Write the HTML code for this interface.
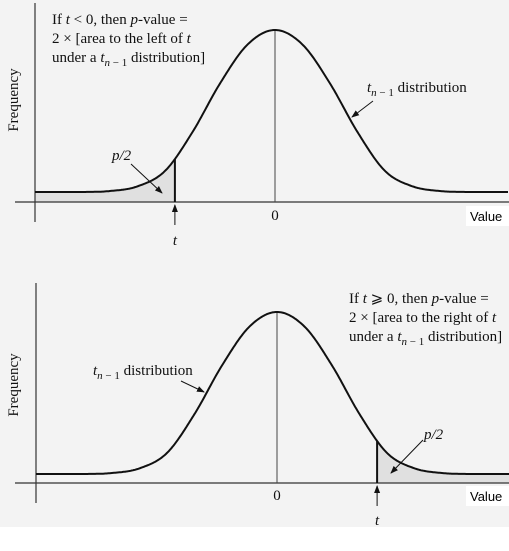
<!DOCTYPE html>
<html><head><meta charset="utf-8"><style>
html,body{margin:0;padding:0;background:#fff}
svg{display:block}
.serif{font-family:"Liberation Serif",serif;font-size:15px;fill:#111}
.it{font-style:italic}
.sans{font-family:"Liberation Sans",sans-serif;font-size:13px;fill:#000}
</style></head><body>
<svg id="fig" width="509" height="551" viewBox="0 0 509 551">
<rect x="0" y="0" width="509" height="527" fill="#f3f3f3"/>
<defs><marker id="ah" markerWidth="8" markerHeight="8" refX="7" refY="4" orient="auto" markerUnits="userSpaceOnUse"><path d="M0,1 L8,4 L0,7 Z" fill="#111"/></marker></defs>

<g id="top">
<path id="topShade" fill="#e0e0e0"/>
<line x1="35" y1="3" x2="35" y2="222" stroke="#333" stroke-width="1.2"/>
<line x1="15" y1="202" x2="509" y2="202" stroke="#333" stroke-width="1.2"/>
<line id="topZero" y2="202" stroke="#444" stroke-width="1"/>
<path id="topCurve" fill="none" stroke="#111" stroke-width="2"/>
<line id="topT" y2="202" stroke="#111" stroke-width="2"/>
<text class="serif" font-size="16" transform="translate(18,100) rotate(-90)" text-anchor="middle">Frequency</text>
<text class="serif" x="52" y="24">If <tspan class="it">t</tspan> &lt; 0, then <tspan class="it">p</tspan>-value =</text>
<text class="serif" x="52" y="43">2 × [area to the left of <tspan class="it">t</tspan></text>
<text class="serif" x="52" y="62">under a <tspan class="it">t</tspan><tspan class="it" font-size="11" dy="4">n</tspan><tspan font-size="11"> − 1</tspan><tspan dy="-4"> distribution]</tspan></text>
<text class="serif" x="367" y="92"><tspan class="it">t</tspan><tspan class="it" font-size="11" dy="4">n</tspan><tspan font-size="11"> − 1</tspan><tspan dy="-4"> distribution</tspan></text>
<line x1="373" y1="101" x2="352" y2="117" stroke="#111" stroke-width="1" marker-end="url(#ah)"/>
<text class="serif it" x="112" y="160">p/2</text>
<line x1="131" y1="164" x2="162" y2="193" stroke="#111" stroke-width="1" marker-end="url(#ah)"/>
<line id="topTArrow" y1="225" y2="205" stroke="#111" stroke-width="1" marker-end="url(#ah)"/>
<text id="topTLbl" class="serif it" y="245" text-anchor="middle">t</text>
<text id="topZeroLbl" class="serif" y="220" text-anchor="middle">0</text>
<rect x="466" y="206" width="43" height="20" fill="#fff"/>
<text class="sans" x="470" y="221">Value</text>
</g>

<g id="bot">
<path id="botShade" fill="#e0e0e0"/>
<line x1="36" y1="283" x2="36" y2="503" stroke="#333" stroke-width="1.2"/>
<line x1="15" y1="483" x2="509" y2="483" stroke="#333" stroke-width="1.2"/>
<line id="botZero" y2="483" stroke="#444" stroke-width="1"/>
<path id="botCurve" fill="none" stroke="#111" stroke-width="2"/>
<line id="botT" y2="483" stroke="#111" stroke-width="2"/>
<text class="serif" font-size="16" transform="translate(18,385) rotate(-90)" text-anchor="middle">Frequency</text>
<text class="serif" x="349" y="303">If <tspan class="it">t</tspan> ⩾ 0, then <tspan class="it">p</tspan>-value =</text>
<text class="serif" x="349" y="322">2 × [area to the right of <tspan class="it">t</tspan></text>
<text class="serif" x="349" y="341">under a <tspan class="it">t</tspan><tspan class="it" font-size="11" dy="4">n</tspan><tspan font-size="11"> − 1</tspan><tspan dy="-4"> distribution]</tspan></text>
<text class="serif" x="93" y="375"><tspan class="it">t</tspan><tspan class="it" font-size="11" dy="4">n</tspan><tspan font-size="11"> − 1</tspan><tspan dy="-4"> distribution</tspan></text>
<line x1="181" y1="381" x2="204" y2="392" stroke="#111" stroke-width="1" marker-end="url(#ah)"/>
<text class="serif it" x="424" y="439">p/2</text>
<line x1="423" y1="440" x2="391" y2="473" stroke="#111" stroke-width="1" marker-end="url(#ah)"/>
<line id="botTArrow" y1="506" y2="486" stroke="#111" stroke-width="1" marker-end="url(#ah)"/>
<text id="botTLbl" class="serif it" y="525" text-anchor="middle">t</text>
<text id="botZeroLbl" class="serif" y="500" text-anchor="middle">0</text>
<rect x="466" y="486" width="43" height="20" fill="#fff"/>
<text class="sans" x="470" y="501">Value</text>
</g>
</svg>
<script>
// density shape (x in t units, relative height 0..1)
var zValues = [-5,-4.5,-4,-3.5,-3,-2.5,-2,-1.5,-1,-0.5,0,0.5,1,1.5,2,2.5,3,3.5,4,4.5,5];
var densityValues = [0,0,0,0,0.006,0.035,0.13,0.37,0.67,0.91,1,0.91,0.67,0.37,0.13,0.035,0.006,0,0,0,0];
var tTop = -1.82;
var tBottom = 1.82;

function makeScales(zeroX, baseY, peakY){
  return {x:function(z){return zeroX + z*55;}, y:function(d){return baseY - d*(baseY-peakY);}};
}
function dens(z){
  for(var i=0;i<zValues.length-1;i++){
    if(z>=zValues[i]&&z<=zValues[i+1]){
      var p0=densityValues[Math.max(i-1,0)],p1=densityValues[i],p2=densityValues[i+1],p3=densityValues[Math.min(i+2,zValues.length-1)];
      var s=(z-zValues[i])/(zValues[i+1]-zValues[i]);
      var m1=(p2-p0)/2,m2=(p3-p1)/2;
      var h00=2*s*s*s-3*s*s+1,h10=s*s*s-2*s*s+s,h01=-2*s*s*s+3*s*s,h11=s*s*s-s*s;
      return Math.max(0,h00*p1+h10*m1+h01*p2+h11*m2);
    }
  }
  return 0;
}
function draw(pref, sc, axisX, tval, rightTail, xAxisY){
  var zmin=(axisX-sc.x(0))/55, zmax=(509-sc.x(0))/55;
  var d='', pts=[];
  for(var z=zmin; z<=zmax; z+=0.02){ pts.push([sc.x(z),sc.y(dens(z))]); }
  pts.forEach(function(p,i){d+=(i?'L':'M')+p[0].toFixed(1)+','+p[1].toFixed(1);});
  document.getElementById(pref+'Curve').setAttribute('d',d);
  var a=rightTail?tval:zmin, b=rightTail?zmax:tval;
  var sd='M'+sc.x(a)+','+xAxisY;
  for(var z2=a; z2<=b; z2+=0.02){ sd+='L'+sc.x(z2).toFixed(1)+','+sc.y(dens(z2)).toFixed(1); }
  sd+='L'+sc.x(b)+','+sc.y(dens(b))+'L'+sc.x(b)+','+xAxisY+'Z';
  document.getElementById(pref+'Shade').setAttribute('d',sd);
  var z0=document.getElementById(pref+'Zero');
  z0.setAttribute('x1',sc.x(0));z0.setAttribute('x2',sc.x(0));z0.setAttribute('y1',sc.y(1));
  var tl=document.getElementById(pref+'T');
  tl.setAttribute('x1',sc.x(tval));tl.setAttribute('x2',sc.x(tval));tl.setAttribute('y1',sc.y(dens(tval)));
  var ta=document.getElementById(pref+'TArrow');
  ta.setAttribute('x1',sc.x(tval));ta.setAttribute('x2',sc.x(tval));
  document.getElementById(pref+'TLbl').setAttribute('x',sc.x(tval));
  document.getElementById(pref+'ZeroLbl').setAttribute('x',sc.x(0));
}
draw('top', makeScales(275,192,30), 35, tTop, false, 202);
draw('bot', makeScales(277,474,312), 36, tBottom, true, 483);
</script>
</body></html>
